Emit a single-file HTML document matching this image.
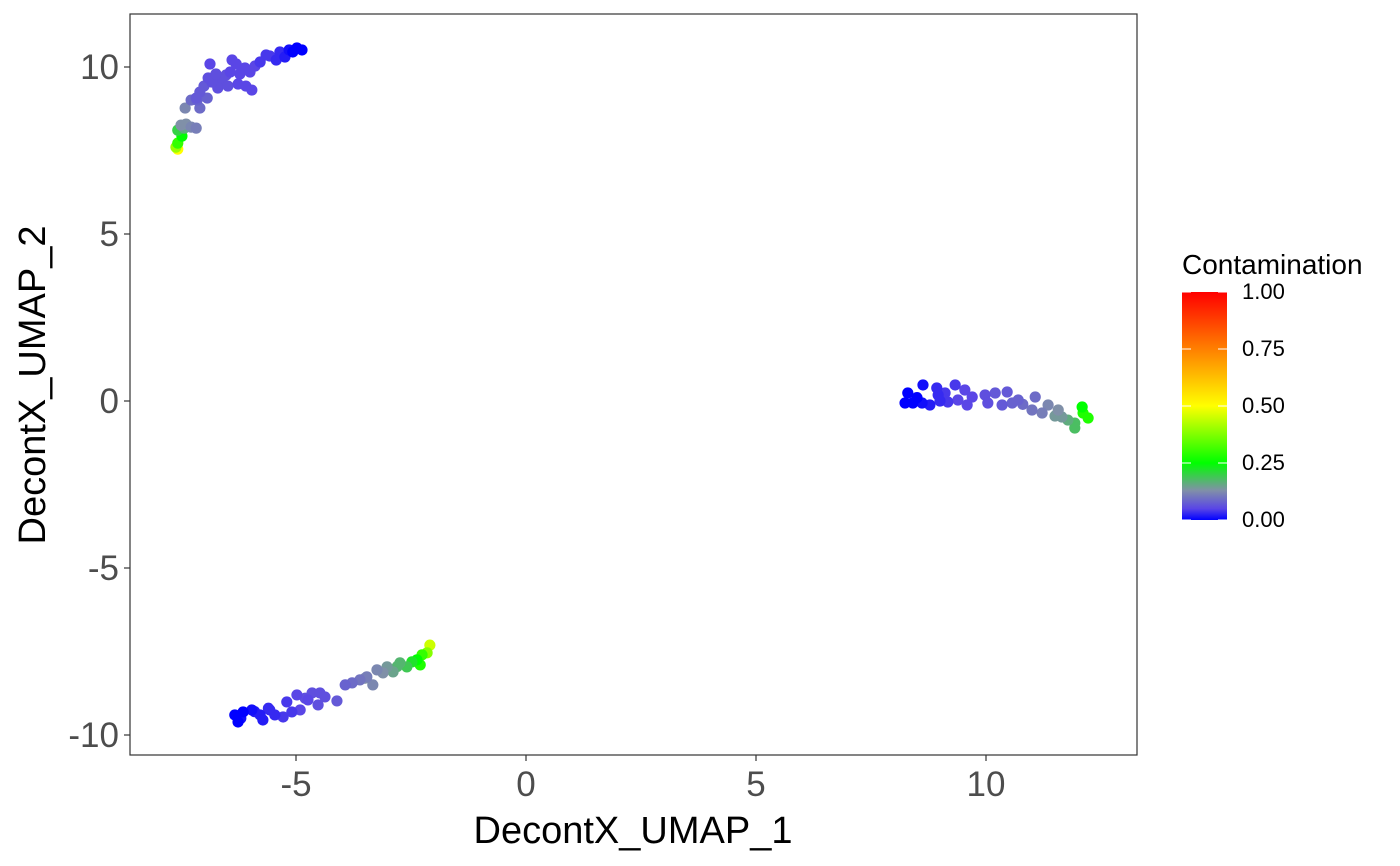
<!DOCTYPE html>
<html><head><meta charset="utf-8"><style>
html,body{margin:0;padding:0;background:#fff;}
svg{display:block;font-family:"Liberation Sans",sans-serif;}
</style></head><body>
<svg id="chart" width="1400" height="866">
<defs>
<linearGradient id="cbar" x1="0" y1="1" x2="0" y2="0">
<stop offset="0" stop-color="#0000ff"/><stop offset="0.05" stop-color="#5a46e6"/><stop offset="0.13" stop-color="#8090a8"/>
<stop offset="0.25" stop-color="#00ff00"/><stop offset="0.5" stop-color="#ffff00"/>
<stop offset="1" stop-color="#ff0000"/>
</linearGradient>
</defs>
<rect x="130" y="14" width="1007" height="741" fill="#fff" stroke="#333" stroke-width="1.2"/>
<g id="points"></g>
<g id="axes"></g>
<text x="633" y="843" font-size="38" text-anchor="middle" fill="#000">DecontX_UMAP_1</text>
<text transform="translate(45,385) rotate(-90)" font-size="38" text-anchor="middle" fill="#000">DecontX_UMAP_2</text>
<g>
<text x="1182" y="274" font-size="28" fill="#000">Contamination</text>
<rect x="1182" y="292" width="45" height="228" fill="url(#cbar)"/>
<g id="cbticks"></g>
</g>
</svg>
<script>
const xTicks=[-5,0,5,10];
const yTicks=[-10,-5,0,5,10];
const cbTicks=[0,0.25,0.5,0.75,1];
const cbLabels=["0.00","0.25","0.50","0.75","1.00"];
const ptX=[-4.87,-4.98,-5.07,-5.15,-5.24,-5.35,-5.43,-5.57,-5.65,-5.78,-5.89,-6.0,-6.11,-6.22,-6.30,-6.39,-6.43,-6.52,-6.61,-6.70,-6.83,-6.91,-7.0,-7.09,-7.17,-6.87,-6.09,-6.26,-5.96,-6.48,-6.74,-6.93,-7.09,-7.15,-7.28,-7.41,-7.5,-7.39,-7.28,-7.17,-7.43,-7.57,-7.48,-7.57,-7.61,-7.57,
-6.33,-6.26,-6.15,-5.96,-5.78,-5.72,-5.57,-5.46,-5.28,-5.20,-4.98,-5.09,-4.91,-4.74,-4.65,-4.48,-4.37,-4.52,-4.11,-3.93,-3.78,-3.61,-3.46,-3.33,-3.24,-3.11,-3.02,-2.89,-2.74,-2.59,-2.48,-2.37,-2.30,-2.26,-2.15,-2.09,-6.2,-5.9,-5.6,-4.8,-3.5,-2.8,
8.30,8.24,8.41,8.63,8.61,8.78,8.93,8.96,9.11,9.17,9.33,9.39,9.54,9.59,9.70,9.98,10.04,10.20,10.35,10.46,10.57,10.70,11.07,11.0,11.22,11.35,11.57,11.65,11.78,11.93,12.09,12.11,12.22,11.93,8.5,9.0,10.8,11.5];
const ptY=[10.51,10.57,10.45,10.51,10.30,10.45,10.21,10.33,10.36,10.15,10.03,9.85,9.97,9.79,10.09,10.21,9.85,9.76,9.61,9.37,9.55,9.67,9.43,9.25,9.07,10.09,9.43,9.49,9.31,9.43,9.79,9.07,8.77,9.01,9.01,8.77,8.26,8.29,8.20,8.17,8.17,8.11,7.93,7.72,7.60,7.54,
-9.40,-9.61,-9.31,-9.25,-9.40,-9.55,-9.25,-9.40,-9.46,-9.01,-8.80,-9.31,-9.25,-8.95,-8.74,-8.74,-8.86,-9.10,-8.98,-8.50,-8.44,-8.35,-8.26,-8.50,-8.05,-8.14,-7.96,-8.11,-7.84,-7.96,-7.81,-7.75,-7.90,-7.60,-7.54,-7.31,-9.5,-9.3,-9.2,-8.9,-8.3,-7.95,
0.24,-0.06,-0.06,0.48,-0.06,-0.12,0.39,0.18,0.24,-0.03,0.48,0.03,0.33,-0.12,0.12,0.18,-0.06,0.24,-0.12,0.27,-0.06,0.03,0.12,-0.27,-0.36,-0.12,-0.27,-0.48,-0.57,-0.66,-0.18,-0.36,-0.51,-0.81,0.1,0.0,-0.1,-0.45];
const ptC=[0,0,0,0.01,0.02,0.03,0.03,0.04,0.04,0.04,0.05,0.05,0.05,0.05,0.05,0.05,0.05,0.06,0.06,0.06,0.06,0.06,0.07,0.07,0.07,0.05,0.05,0.05,0.05,0.06,0.06,0.08,0.09,0.08,0.09,0.12,0.13,0.13,0.12,0.11,0.16,0.2,0.25,0.3,0.4,0.5,
0,0,0,0.01,0.02,0.02,0.03,0.03,0.04,0.04,0.05,0.04,0.05,0.05,0.06,0.06,0.06,0.06,0.07,0.08,0.09,0.10,0.11,0.12,0.12,0.13,0.14,0.15,0.17,0.19,0.22,0.25,0.28,0.3,0.38,0.45,0.01,0.02,0.03,0.06,0.13,0.17,
0,0,0,0.01,0.01,0.02,0.03,0.03,0.04,0.04,0.04,0.05,0.05,0.05,0.05,0.06,0.06,0.07,0.07,0.07,0.08,0.08,0.09,0.1,0.11,0.12,0.13,0.14,0.16,0.18,0.25,0.28,0.28,0.18,0.0,0.03,0.09,0.14];
const NS='http://www.w3.org/2000/svg';
const sx=v=>526+46*v, sy=v=>401-33.4*v;
const stops=[[0,[0,0,255]],[0.05,[90,70,230]],[0.13,[128,144,168]],[0.25,[0,255,0]],[0.5,[255,255,0]],[1,[255,0,0]]];
function col(c){for(let i=1;i<stops.length;i++){if(c<=stops[i][0]){const a=stops[i-1],b=stops[i],t=(c-a[0])/(b[0]-a[0]);return 'rgb('+a[1].map((v,k)=>Math.round(v+(b[1][k]-v)*t)).join(',')+')';}}return 'rgb(255,0,0)';}
const pg=document.getElementById('points');
const order=ptC.map((c,i)=>i).sort((a,b)=>ptC[b]-ptC[a]);
order.forEach(i=>{const c=document.createElementNS(NS,'circle');
c.setAttribute('cx',sx(ptX[i]));c.setAttribute('cy',sy(ptY[i]));c.setAttribute('r',5.6);c.setAttribute('fill',col(ptC[i]));


pg.appendChild(c);});
const ax=document.getElementById('axes');
function add(tag,attrs,txt){const e=document.createElementNS(NS,tag);for(const k in attrs)e.setAttribute(k,attrs[k]);if(txt!==undefined)e.textContent=txt;ax.appendChild(e);return e;}
xTicks.forEach(v=>{add('line',{x1:sx(v),x2:sx(v),y1:755,y2:761,stroke:'#333','stroke-width':1.2});
const t=add('text',{x:sx(v),y:796,'font-size':35,'text-anchor':'middle',fill:'#4d4d4d'},String(v));

});
yTicks.forEach(v=>{add('line',{x1:124,x2:130,y1:sy(v),y2:sy(v),stroke:'#333','stroke-width':1.2});
const t=add('text',{x:119,y:sy(v)+12,'font-size':35,'text-anchor':'end',fill:'#4d4d4d'},String(v));

});
const cb=document.getElementById('cbticks');
cbTicks.forEach((v,i)=>{const y=520-228*v;
const l1=document.createElementNS(NS,'line');l1.setAttribute('x1',1182);l1.setAttribute('x2',1191);l1.setAttribute('y1',y);l1.setAttribute('y2',y);l1.setAttribute('stroke','#fff');cb.appendChild(l1);
const l2=document.createElementNS(NS,'line');l2.setAttribute('x1',1218);l2.setAttribute('x2',1227);l2.setAttribute('y1',y);l2.setAttribute('y2',y);l2.setAttribute('stroke','#fff');cb.appendChild(l2);
const t=document.createElementNS(NS,'text');t.setAttribute('x',1242);t.setAttribute('y',y+7);t.setAttribute('font-size',22);t.setAttribute('fill','#000');t.textContent=cbLabels[i];


cb.appendChild(t);});
</script>
</body></html>
